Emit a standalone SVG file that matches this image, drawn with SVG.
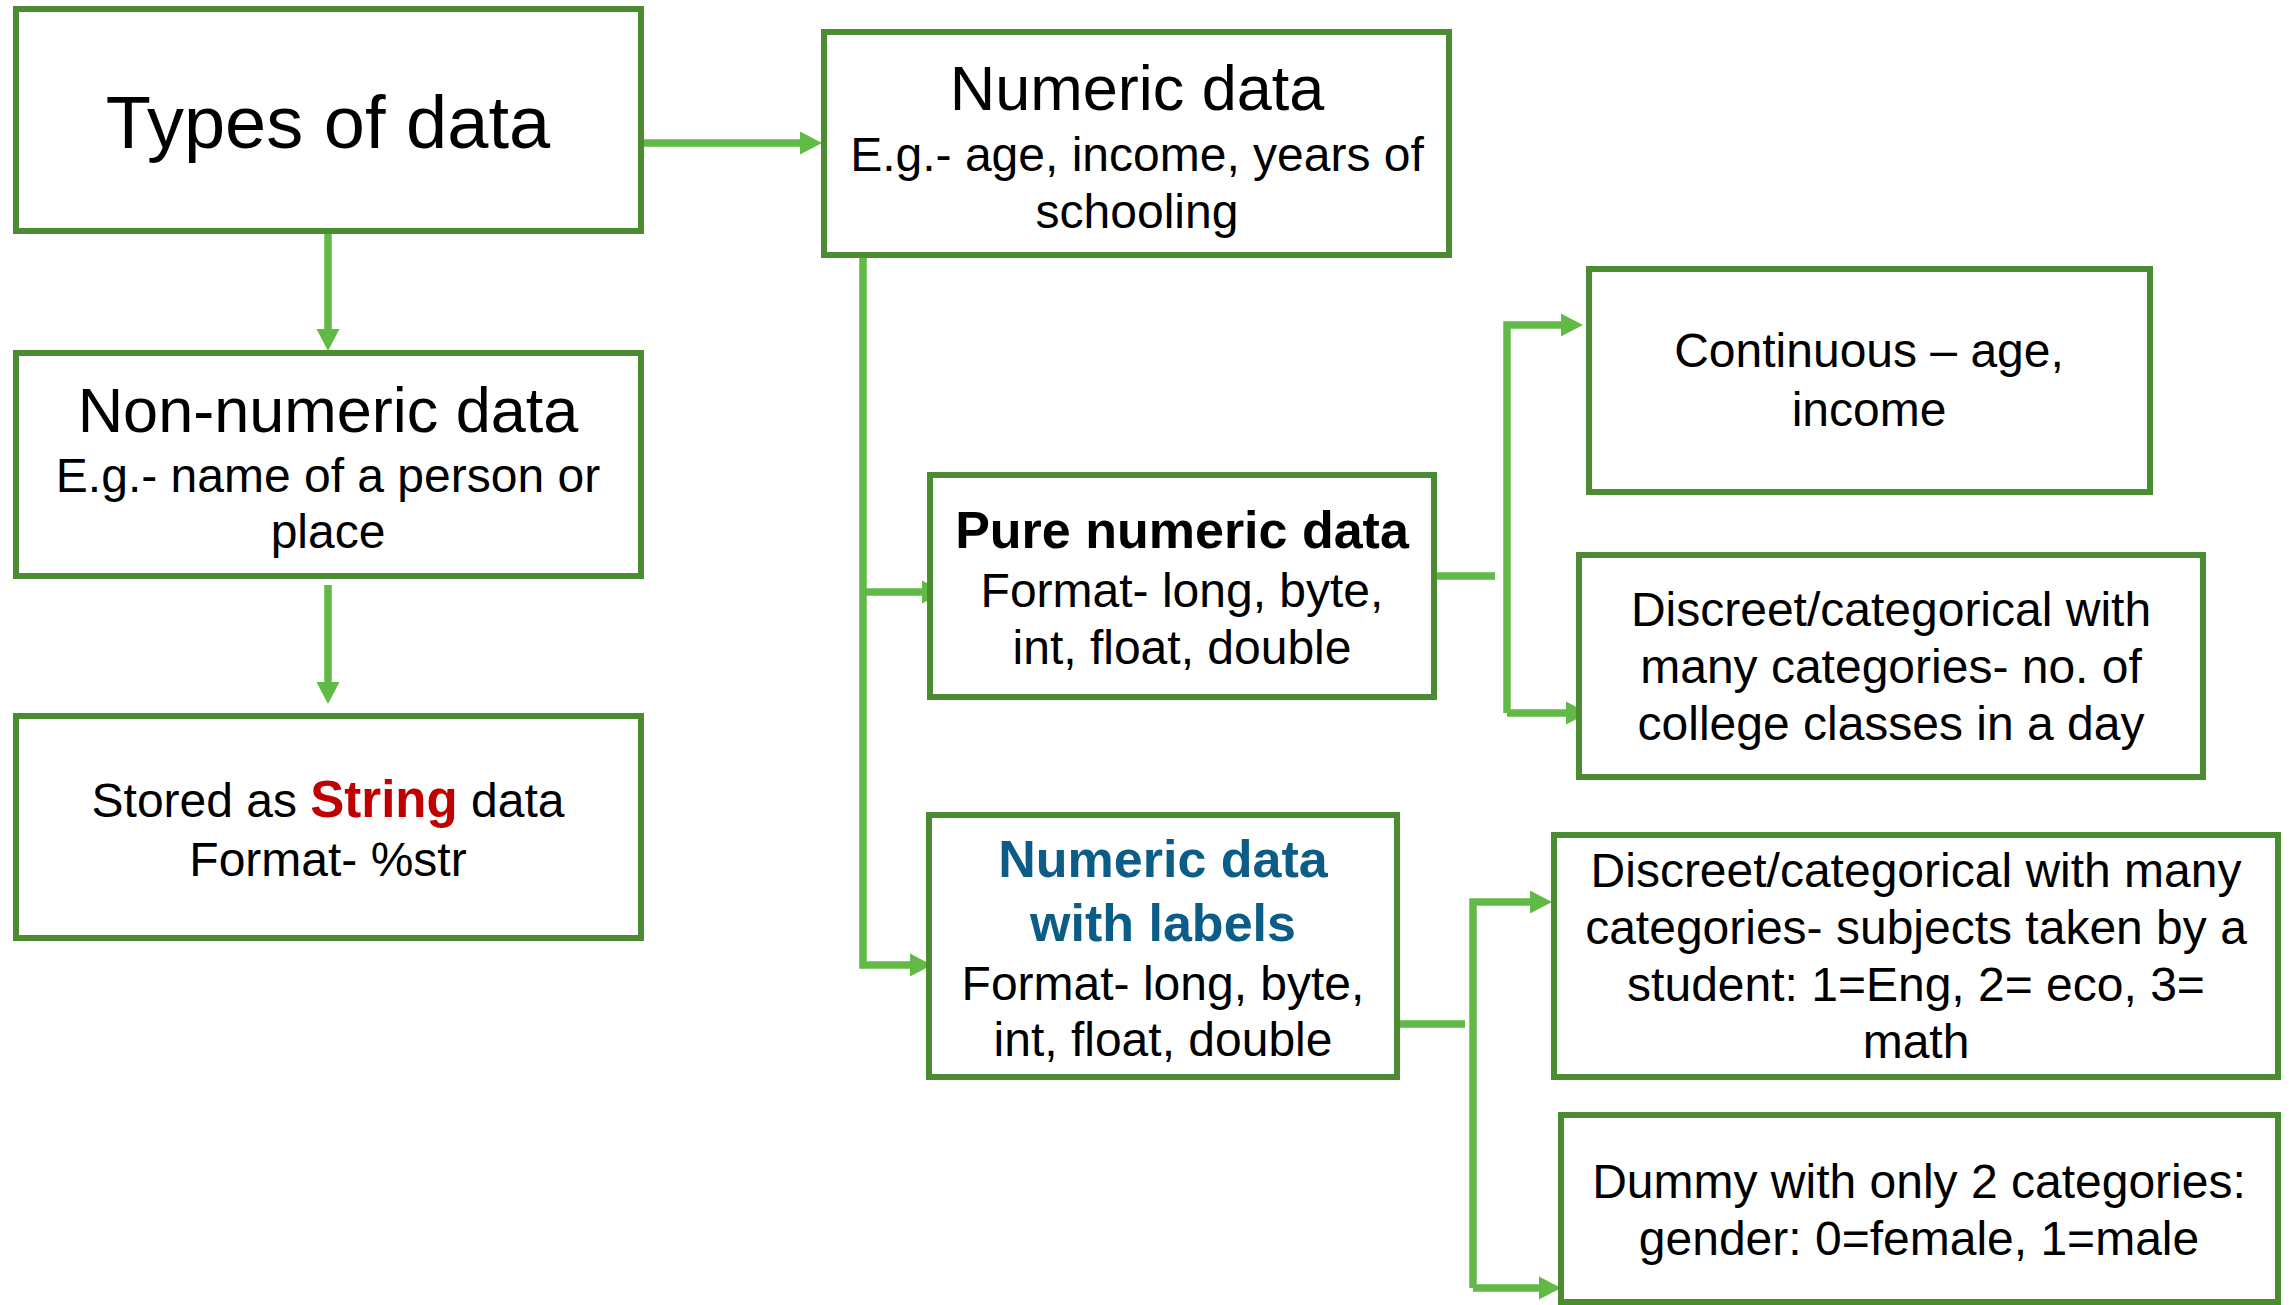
<svg xmlns="http://www.w3.org/2000/svg" width="2290" height="1305" viewBox="0 0 2290 1305">
<style>
.box{fill:#fff;stroke:#4b8b32;stroke-width:6}
.c{fill:none;stroke:#62ba46;stroke-width:7.5;stroke-linejoin:miter}
.ca{fill:none;stroke:#62ba46;stroke-width:7.5;marker-end:url(#ah)}
text{font-family:"Liberation Sans",Arial,sans-serif;fill:#000;text-anchor:middle}
.t1{font-size:74px}
.t2{font-size:63px}
.b{font-size:48px}
.hb{font-size:52px;font-weight:bold}
.blue{fill:#0b5c86}
.red{fill:#c00000;font-weight:bold;font-size:51px}
</style>
<defs>
<marker id="ah" markerUnits="userSpaceOnUse" markerWidth="23" markerHeight="24" refX="0" refY="11.5" orient="auto" viewBox="0 0 23 23">
<path d="M0,0 L22,11.5 L0,23 z" fill="#62ba46"/>
</marker>
</defs>
<rect width="2290" height="1305" fill="#fff"/>
<g id="connectors">
<path class="ca" d="M642,143 H800"/>
<path class="ca" d="M328,232 V329"/>
<path class="ca" d="M328,585 V682"/>
<path class="ca" d="M863,255 V965 H910"/>
<path class="ca" d="M863,592 H922"/>
<path class="c" d="M1437,576 H1495"/>
<path class="ca" d="M1507,713 V325 H1561"/>
<path class="ca" d="M1507,713 H1566"/>
<path class="c" d="M1400,1024 H1465"/>
<path class="ca" d="M1473,1288 V902 H1530"/>
<path class="ca" d="M1473,1288 H1539"/>
</g>
<g id="types">
<rect class="box" x="16" y="9" width="625" height="222"/>
<text class="t1" x="328" y="148">Types of data</text>
</g>
<g id="numeric">
<rect class="box" x="824" y="32" width="625" height="223"/>
<text class="t2" x="1137" y="110">Numeric data</text>
<text class="b" x="1137" y="171">E.g.- age, income, years of</text>
<text class="b" x="1137" y="228">schooling</text>
</g>
<g id="nonnumeric">
<rect class="box" x="16" y="353" width="625" height="223"/>
<text class="t2" x="328" y="432">Non-numeric data</text>
<text class="b" x="328" y="492">E.g.- name of a person or</text>
<text class="b" x="328" y="548">place</text>
</g>
<g id="stored">
<rect class="box" x="16" y="716" width="625" height="222"/>
<text class="b" x="328" y="817">Stored as <tspan class="red">String</tspan> data</text>
<text class="b" x="328" y="876">Format- %str</text>
</g>
<g id="pure">
<rect class="box" x="930" y="475" width="504" height="222"/>
<text class="hb" x="1182" y="548">Pure numeric data</text>
<text class="b" x="1182" y="607">Format- long, byte,</text>
<text class="b" x="1182" y="664">int, float, double</text>
</g>
<g id="labels">
<rect class="box" x="929" y="815" width="468" height="262"/>
<text class="hb blue" x="1163" y="877">Numeric data</text>
<text class="hb blue" x="1163" y="941">with labels</text>
<text class="b" x="1163" y="1000">Format- long, byte,</text>
<text class="b" x="1163" y="1056">int, float, double</text>
</g>
<g id="continuous">
<rect class="box" x="1589" y="269" width="561" height="223"/>
<text class="b" x="1869" y="367">Continuous – age,</text>
<text class="b" x="1869" y="426">income</text>
</g>
<g id="discreet1">
<rect class="box" x="1579" y="555" width="624" height="222"/>
<text class="b" x="1891" y="626">Discreet/categorical with</text>
<text class="b" x="1891" y="683">many categories- no. of</text>
<text class="b" x="1891" y="740">college classes in a day</text>
</g>
<g id="discreet2">
<rect class="box" x="1554" y="835" width="724" height="242"/>
<text class="b" x="1916" y="887">Discreet/categorical with many</text>
<text class="b" x="1916" y="944">categories- subjects taken by a</text>
<text class="b" x="1916" y="1001">student: 1=Eng, 2= eco, 3=</text>
<text class="b" x="1916" y="1058">math</text>
</g>
<g id="dummy">
<rect class="box" x="1561" y="1115" width="717" height="187"/>
<text class="b" x="1919" y="1198">Dummy with only 2 categories:</text>
<text class="b" x="1919" y="1255">gender: 0=female, 1=male</text>
</g>
</svg>
